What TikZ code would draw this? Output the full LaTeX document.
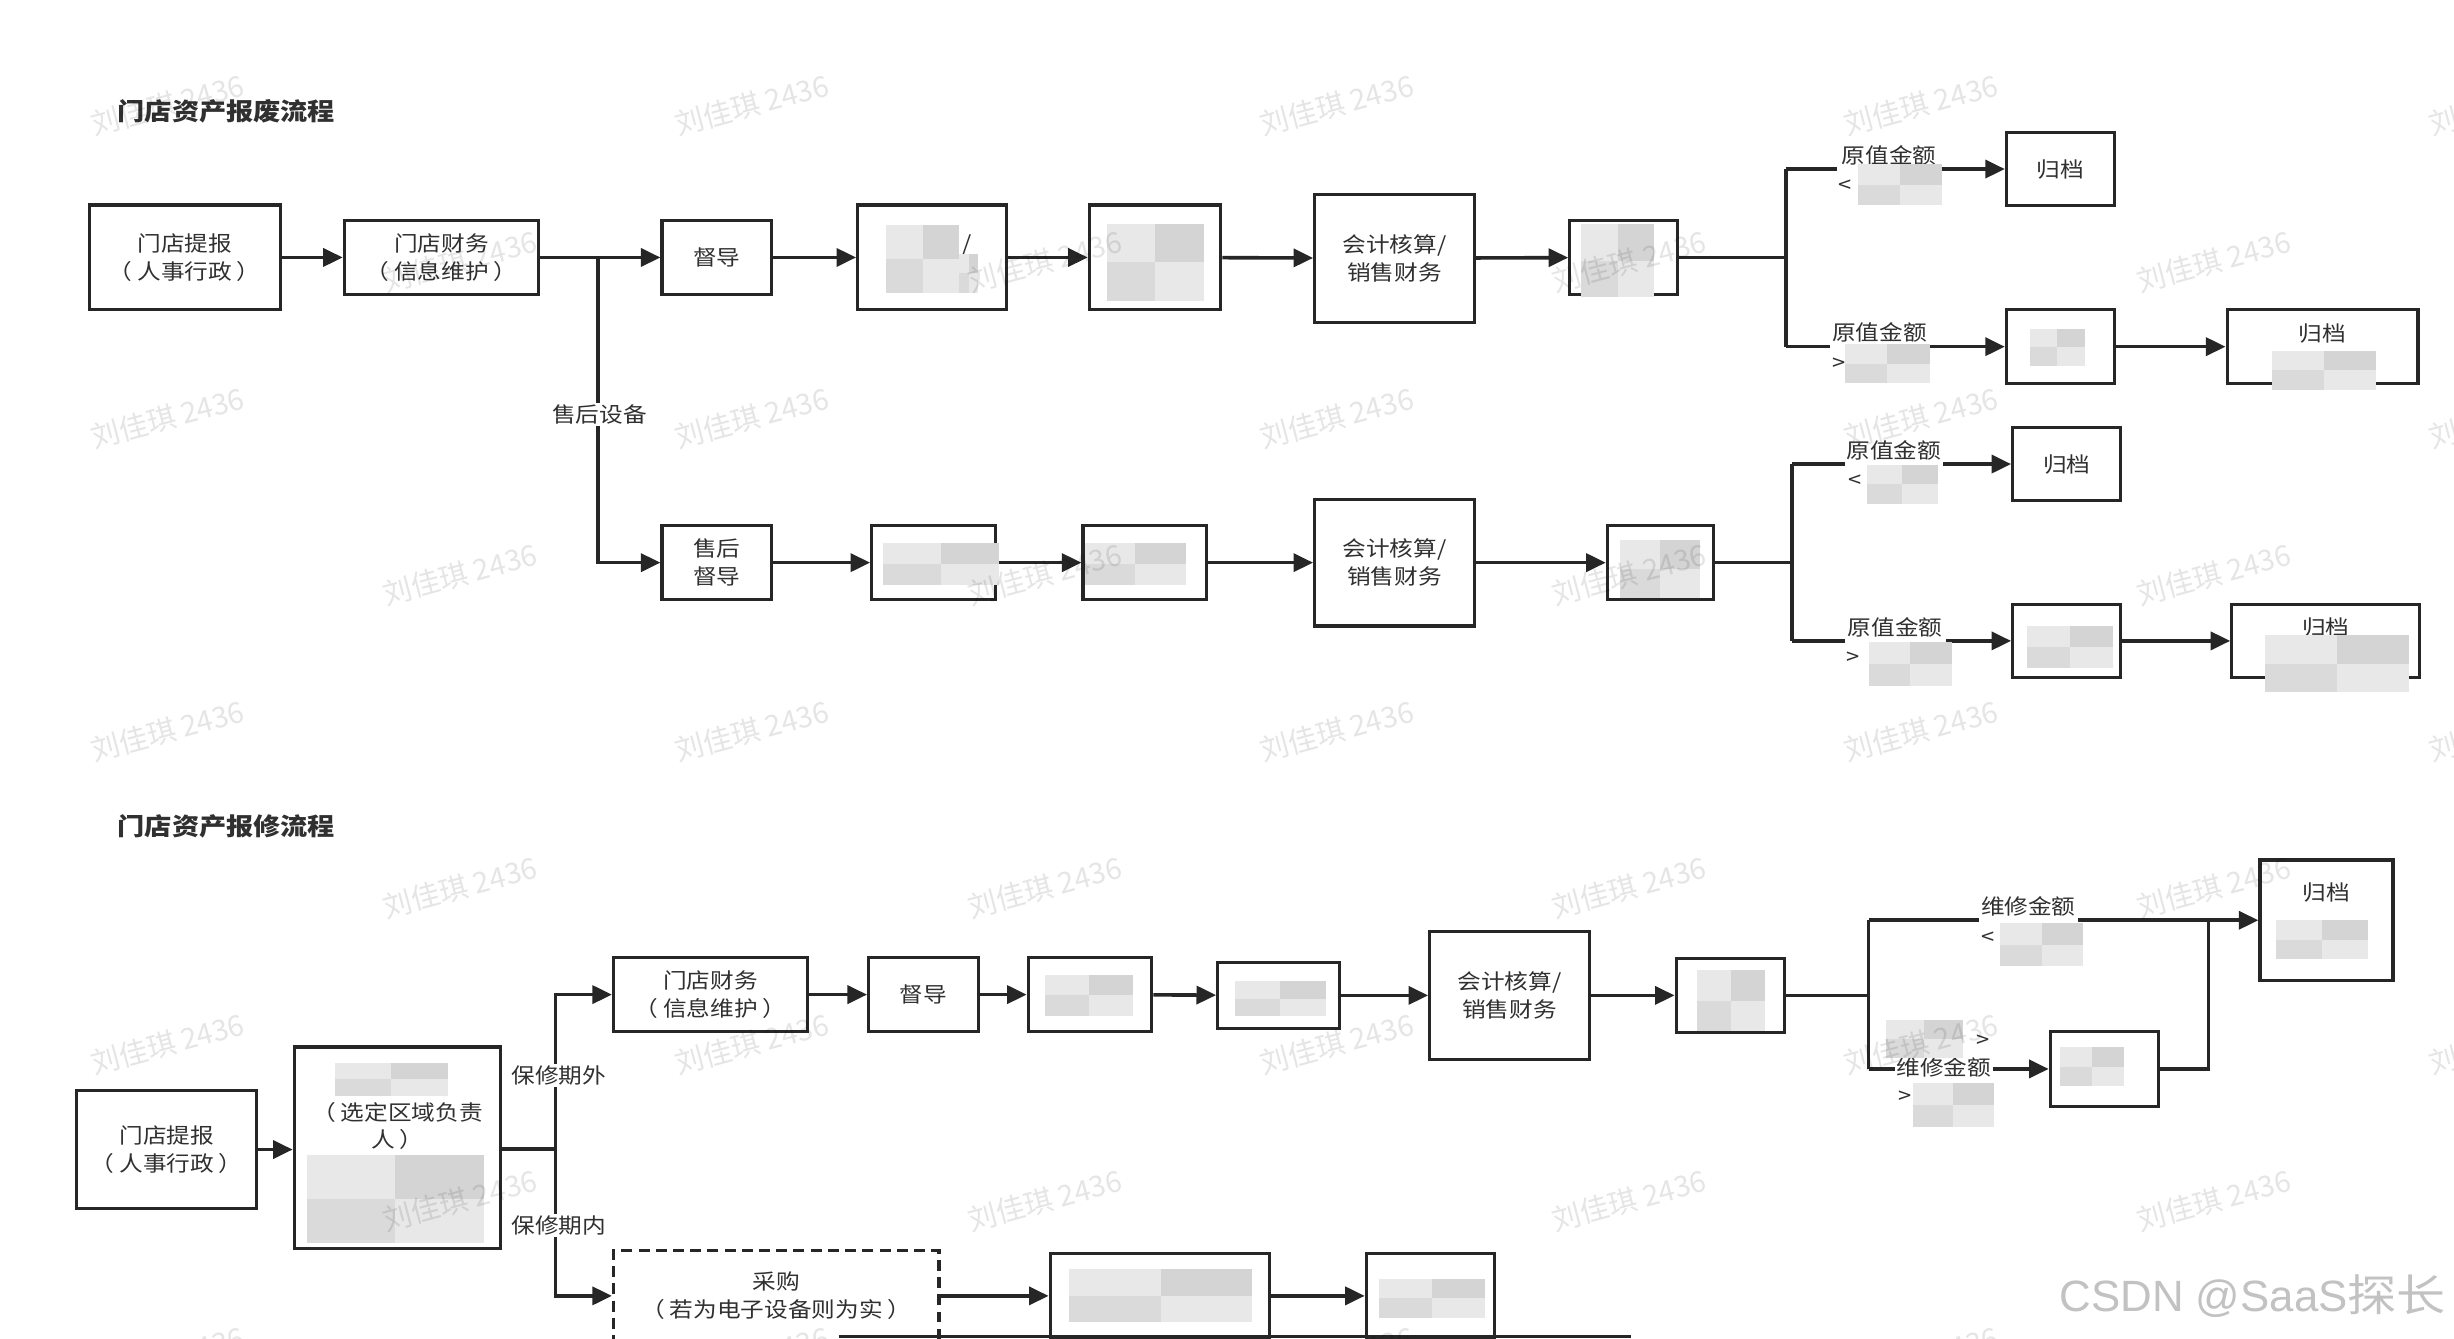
\documentclass[tikz,border=0pt]{standalone}
\usepackage{fontspec}
\setmainfont[FakeStretch=1.12]{Noto Sans CJK SC}
\newfontfamily\wmfont{Noto Sans CJK SC}
\newfontfamily\csdnfont{Liberation Sans}
\usetikzlibrary{arrows.meta}
\definecolor{linec}{HTML}{262626}
\definecolor{txtc}{HTML}{303030}
\definecolor{blurA}{HTML}{E8E8E8}
\definecolor{blurB}{HTML}{D4D4D4}
\newcommand\blurbox[4]{%
  \fill[blurA] (#1,#2) rectangle (#3,#4);
  \fill[blurB] ({(#1+#3)/2},#2) rectangle (#3,{(#2+#4)/2});
  \fill[blurB!70!blurA] (#1,{(#2+#4)/2}) rectangle ({(#1+#3)/2},#4);}
\newcommand\lp{（\hspace{3pt}}
\newcommand\rp{\hspace{3pt}）}
\tikzset{
  box/.style={draw=linec, line width=2pt, fill=white, inner sep=0pt, align=center,
    text=txtc, font=\fontsize{13.5}{18}\selectfont},
  ln/.style={draw=linec, line width=2.3pt},
  arr/.style={ln, -{Triangle[length=12.5pt,width=11.5pt]}},
  lbl/.style={fill=white, inner sep=1pt, align=center, text=txtc,
    font=\fontsize{13.5}{19}\selectfont},
  ttl/.style={anchor=west, inner sep=0pt, text=txtc,
    font=\fontsize{15.5}{20}\selectfont\bfseries},
  wm/.style={rotate=15, text=black, text opacity=0.1, inner sep=0pt,
    font=\wmfont\fontsize{18.5}{18.5}\selectfont},
}
\begin{document}
\begin{tikzpicture}[x=1pt,y=-1pt]
\useasboundingbox (0,0) rectangle (1568,855);
\fill[white] (0,0) rectangle (1568,855);
\clip (0,0) rectangle (1568,855);

% ---------- titles
\node[ttl] (T1) at (75,71) {门店资产报废流程};
\node[ttl] (T2) at (75,528) {门店资产报修流程};

% ---------- row 1
\node[box, minimum width=122pt, minimum height=67pt] (A1) at (118,164.5) {门店提报\\\lp 人事行政\rp};
\node[box, minimum width=124pt, minimum height=47pt] (A2) at (282,164.5) {门店财务\\\lp 信息维护\rp};
\node[box, minimum width=70pt, minimum height=47pt] (A3) at (458,164.5) {督导};
\node[box, minimum width=95pt, minimum height=67pt] (A4) at (595.5,164.5) {\hphantom{中中中}/\\\hphantom{中中中中}};
\node[box, minimum width=84pt, minimum height=67pt] (A5) at (738,164.5) {};
\node[box, minimum width=102pt, minimum height=82pt] (A6) at (891,165) {会计核算/\\销售财务};
\node[box, minimum width=69pt, minimum height=47pt] (A7) at (1037.5,164.5) {};
\node[box, minimum width=69pt, minimum height=47pt] (A8) at (1316.5,108) {归档};
\node[box, minimum width=69pt, minimum height=47pt] (A9) at (1316.5,221.5) {};
\node[box, minimum width=122pt, minimum height=47pt] (A10) at (1484,221.5) {归档\\\hphantom{中}};

\coordinate (J0) at (382,164.5);
\coordinate (J1) at (1141,164.5);
\coordinate (J1u) at (1141,108);
\coordinate (J1d) at (1141,221.5);

\draw[arr] (A1) -- (A2);
\draw[arr] (A2) -- (A3);
\draw[arr] (A3) -- (A4);
\draw[arr] (A4) -- (A5);
\draw[arr] (A5) -- (A6);
\draw[arr] (A6) -- (A7);
\draw[ln] (A7) -- (J1);
\draw[ln] (J1u) -- (J1d);
\node[lbl] (L1) at (1207,108) {原值金额\\{<}\hspace*{56pt}};
\node[lbl] (L2) at (1201,221.5) {原值金额\\{>}\hspace*{52pt}};
\draw[ln] (J1u) -- (L1);
\draw[arr] (L1) -- (A8);
\draw[ln] (J1d) -- (L2);
\draw[arr] (L2) -- (A9);
\draw[arr] (A9) -- (A10);

% ---------- row 2
\node[box, minimum width=70pt, minimum height=47pt] (B1) at (458,359.5) {售后\\督导};
\node[box, minimum width=79pt, minimum height=47pt] (B2) at (596.5,359.5) {};
\node[box, minimum width=79pt, minimum height=47pt] (B3) at (731.5,359.5) {};
\node[box, minimum width=102pt, minimum height=81pt] (B4) at (891,359.5) {会计核算/\\销售财务};
\node[box, minimum width=68pt, minimum height=47pt] (B5) at (1061,359.5) {};
\node[box, minimum width=69pt, minimum height=47pt] (B6) at (1320.5,296.5) {归档};
\node[box, minimum width=69pt, minimum height=47pt] (B7) at (1320.5,409.5) {};
\node[box, minimum width=120pt, minimum height=47pt] (B8) at (1486,409.5) {归档\\\hphantom{中}};

\coordinate (J2) at (1145,359.5);
\coordinate (J2u) at (1145,296.5);
\coordinate (J2d) at (1145,409.5);

\draw[arr] (J0) |- (B1);
\node[lbl] (L0) at (383,265) {售后设备};
\draw[arr] (B1) -- (B2);
\draw[arr] (B2) -- (B3);
\draw[arr] (B3) -- (B4);
\draw[arr] (B4) -- (B5);
\draw[ln] (B5) -- (J2);
\draw[ln] (J2u) -- (J2d);
\node[lbl] (L3) at (1210,296.5) {原值金额\\{<}\hspace*{50pt}};
\node[lbl] (L4) at (1211,409.5) {原值金额\\{>}\hspace*{54pt}};
\draw[ln] (J2u) -- (L3);
\draw[arr] (L3) -- (B6);
\draw[ln] (J2d) -- (L4);
\draw[arr] (L4) -- (B7);
\draw[arr] (B7) -- (B8);

% ---------- row 3
\node[box, minimum width=115pt, minimum height=75pt] (C1) at (106.5,734.5) {门店提报\\\lp 人事行政\rp};
\node[box, minimum width=132pt, minimum height=129pt, font=\fontsize{13.5}{17.5}\selectfont] (C2) at (254,733.5)
  {\hphantom{中}\\\hphantom{中}\\\lp 选定区域负责\\人\rp\\\hphantom{中}\\\hphantom{中}\\\hphantom{中}};
\node[box, minimum width=124pt, minimum height=47pt] (C3) at (454,635.5) {门店财务\\\lp 信息维护\rp};
\node[box, minimum width=70pt, minimum height=47pt] (C4) at (590,635.5) {督导};
\node[box, minimum width=79pt, minimum height=47pt] (C5) at (696.5,635.5) {};
\node[box, minimum width=78pt, minimum height=42pt] (C6) at (817,636) {};
\node[box, minimum width=102pt, minimum height=82pt] (C7) at (964.5,636) {会计核算/\\销售财务};
\node[box, minimum width=69pt, minimum height=47pt] (C8) at (1105.5,636) {};
\node[box, minimum width=85pt, minimum height=77pt] (C9) at (1486.5,588) {归档\\\hphantom{中}\\\hphantom{中}};
\node[box, minimum width=69pt, minimum height=48pt] (C10) at (1344.5,683) {};
\node[box, dashed, dash pattern=on 7pt off 4pt, minimum width=208pt, minimum height=58pt] (C11) at (496,828)
  {采购\\\lp 若为电子设备则为实\rp};
\node[box, minimum width=140pt, minimum height=54pt] (C12) at (741,828) {};
\node[box, minimum width=82pt, minimum height=54pt] (C13) at (914,828) {};

\coordinate (J3) at (355,734);
\coordinate (J4) at (1194,636);
\coordinate (J4u) at (1194,588);
\coordinate (J4d) at (1194,683);
\coordinate (R) at (1411,683);
\coordinate (Ru) at (1411,588);
\coordinate (BL) at (536,854);
\coordinate (BR) at (1042,854);

\draw[arr] (C1) -- (C2.west |- C1);
\draw[ln] (C2.east |- J3) -- (J3);
\draw[arr] (J3) |- (C3);
\draw[arr] (J3) |- (C11);
\node[lbl] (L7) at (357,687) {保修期外};
\node[lbl] (L8) at (357,783) {保修期内};
\draw[arr] (C3) -- (C4);
\draw[arr] (C4) -- (C5);
\draw[arr] (C5) -- (C6);
\draw[arr] (C6) -- (C7);
\draw[arr] (C7) -- (C8);
\draw[ln] (C8) -- (J4);
\draw[ln] (J4u) -- (J4d);
\node[lbl] (L5) at (1296,588) {维修金额\\{<}\hspace*{52pt}};
\node[lbl, font=\fontsize{13.5}{18}\selectfont] (L6) at (1242,683) {\hspace*{50pt}{>}\\维修金额\\{>}\hspace*{50pt}};
\draw[ln] (J4u) -- (L5);
\draw[arr] (L5) -- (C9);
\draw[ln] (J4d) -- (L6);
\draw[arr] (L6) -- (C10);
\draw[ln] (C10) -- (R) -- (Ru);
\draw[arr] (C11) -- (C12);
\draw[arr] (C12) -- (C13);
\draw[ln] (BL) -- (BR);

% ---------- blurred (pixelated) patches
\blurbox{566}{144}{613}{187}
\blurbox{613}{162}{625}{187}
\blurbox{707}{143}{769}{192}
\blurbox{1010}{143}{1057}{190}
\blurbox{1187}{105}{1241}{131}
\blurbox{1179}{220}{1233}{245}
\blurbox{1297}{210}{1332}{234}
\blurbox{1452}{224}{1518}{249}
\blurbox{564}{347}{638}{374}
\blurbox{693}{347}{758}{374}
\blurbox{1035}{345}{1086}{382}
\blurbox{1193}{297}{1238}{322}
\blurbox{1194}{410}{1247}{438}
\blurbox{1295}{400}{1350}{427}
\blurbox{1447}{406}{1539}{442}
\blurbox{214}{679}{286}{700}
\blurbox{196}{738}{309}{794}
\blurbox{668}{623}{724}{649}
\blurbox{789}{627}{847}{649}
\blurbox{1084}{620}{1128}{659}
\blurbox{1278}{590}{1331}{617}
\blurbox{1205}{652}{1254}{676}
\blurbox{1222}{692}{1274}{720}
\blurbox{1454}{588}{1513}{613}
\blurbox{1316}{669}{1357}{694}
\blurbox{683}{811}{800}{845}
\blurbox{881}{817}{949}{842}

% ---------- watermarks
\foreach \r in {0,...,8} {
  \pgfmathsetmacro\yy{67+100*\r}
  \pgfmathtruncatemacro\oddrow{mod(\r,2)}
  \pgfmathsetmacro\xo{107+187*\oddrow}
  \foreach \j in {0,...,4} {
    \node[wm] (wm-\r-\j) at ({\xo+373.5*\j},\yy) {刘佳琪 2436};
  }
}
\node[anchor=east, inner sep=0pt, text=black!24, font=\fontsize{28}{30}\selectfont] (csdn) at (1563,828)
  {{\csdnfont CSDN @SaaS}探长};
\end{tikzpicture}
\end{document}
